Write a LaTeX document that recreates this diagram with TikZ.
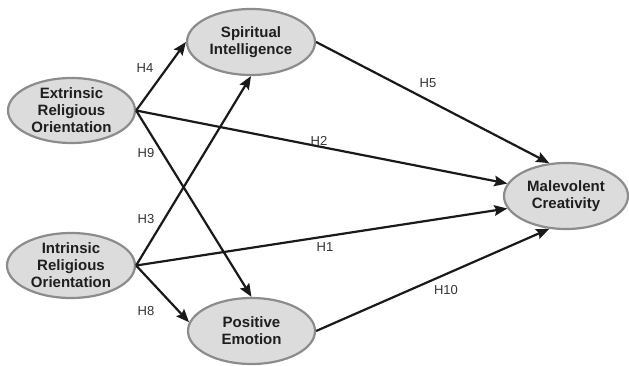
\documentclass[tikz,border=0pt]{standalone}
\usepackage{fontspec}
\setmainfont{Liberation Sans}
\usetikzlibrary{shapes.geometric,arrows.meta}
\definecolor{fillg}{HTML}{DCDCDC}
\definecolor{edgeg}{HTML}{8C8C8C}
\definecolor{txt}{HTML}{1E1E1E}
\definecolor{lbl}{HTML}{333333}
\tikzset{
  construct/.style={ellipse, draw=edgeg, line width=2.2pt, fill=fillg, inner sep=0pt,
    align=center, text=txt, font=\fontsize{15}{17}\selectfont\bfseries},
  path/.style={line width=2.2pt, draw=black!90, -{Stealth[length=13pt,width=10.5pt,inset=2pt]}},
  hyp/.style={text=lbl, font=\fontsize{13}{15}\selectfont, inner sep=0pt}
}
\begin{document}
\begin{tikzpicture}[x=1pt,y=-1pt]
\useasboundingbox (0,0) rectangle (629,366);
\node[construct, minimum width=127pt, minimum height=65pt] (ero) at (71.5,110.5) {Extrinsic\\Religious\\Orientation};
\node[construct, minimum width=128pt, minimum height=65pt] (iro) at (71,265.5) {Intrinsic\\Religious\\Orientation};
\node[construct, minimum width=128pt, minimum height=66pt] (si) at (251,42) {Spiritual\\Intelligence};
\node[construct, minimum width=127pt, minimum height=66pt] (pe) at (251.5,331) {Positive\\Emotion};
\node[construct, minimum width=124pt, minimum height=66pt] (mc) at (566,196) {Malevolent\\Creativity};

\draw[path] (ero.east) -- (si.west);
\draw[path] (ero.east) -- (pe.north);
\draw[path] (ero.east) -- (mc.168);
\draw[path] (iro.east) -- (si.south);
\draw[path] (iro.east) -- (pe.172);
\draw[path] (iro.east) -- (mc.192);
\draw[path] (si.east) -- (mc.117);
\draw[path] (pe.east) -- (mc.243);

\node[hyp] (h4) at (145,68) {H4};
\node[hyp] (h9) at (146,153) {H9};
\node[hyp] (h3) at (146,219) {H3};
\node[hyp] (h8) at (146,311) {H8};
\node[hyp] (h5) at (428,83) {H5};
\node[hyp] (h2) at (319,141) {H2};
\node[hyp] (h1) at (325,247) {H1};
\node[hyp] (h10) at (446,290) {H10};
\end{tikzpicture}
\end{document}
